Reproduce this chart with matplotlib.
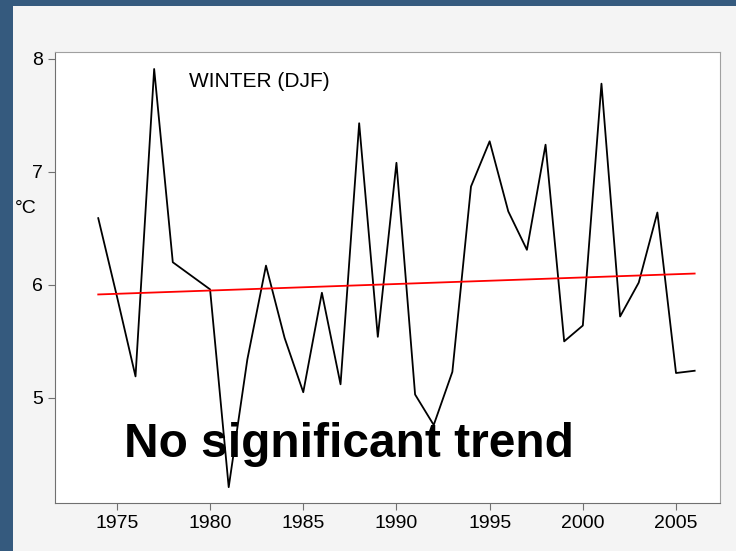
import matplotlib
matplotlib.use("Agg")
import matplotlib.pyplot as plt
from matplotlib.patches import Rectangle

plt.rcParams['font.family'] = ['Liberation Sans', 'DejaVu Sans']

years = list(range(1974, 2007))
temps = [6.59, 5.90, 5.19, 7.91, 6.20, 6.08, 5.96, 4.21, 5.34, 6.17,
         5.53, 5.05, 5.93, 5.12, 7.43, 5.54, 7.08, 5.03, 4.76, 5.23,
         6.87, 7.27, 6.65, 6.31, 7.24, 5.50, 5.64, 7.78, 5.72, 6.02,
         6.64, 5.22, 5.24]
trend_years = [1974, 2006]
trend_vals = [5.915, 6.10]

fig = plt.figure(figsize=(7.36, 5.51), dpi=100)
fig.patch.set_facecolor('#f4f4f4')

# dark frame on top and left
fig.patches.append(Rectangle((0, 1 - 6 / 551), 1, 6 / 551, transform=fig.transFigure,
                             facecolor='#355a7e', edgecolor='none', zorder=0))
fig.patches.append(Rectangle((0, 0), 12.5 / 736, 1, transform=fig.transFigure,
                             facecolor='#355a7e', edgecolor='none', zorder=0))

ax = fig.add_axes([55 / 736, 1 - 503 / 551, 665 / 736, 451 / 551])
ax.set_facecolor('white')

ax.plot(years, temps, color='black', lw=1.3)
ax.plot(trend_years, trend_vals, color='red', lw=1.3)

ax.set_xlim(1971.68, 2007.36)
ax.set_ylim(4.07, 8.06)
ax.set_xticks([1975, 1980, 1985, 1990, 1995, 2000, 2005])
ax.set_yticks([5, 6, 7, 8])

for side in ['left', 'bottom']:
    ax.spines[side].set_color('#707070')
for side in ['top', 'right']:
    ax.spines[side].set_color('#a0a0a0')
ax.tick_params(axis='both', colors='#707070', labelcolor='black',
               labelsize=14, length=5, width=0.8)

ax.set_ylabel('°C', rotation=0, fontsize=14)
ax.yaxis.set_label_coords(-0.044, 0.634)

ax.text(1978.87, 7.80, 'WINTER (DJF)', fontsize=15, ha='left', va='center')
ax.text(1975.38, 4.48, 'No significant trend', fontsize=34.5, fontweight='bold',
        ha='left', va='baseline')

plt.savefig('out.png', dpi=100, facecolor=fig.get_facecolor())
